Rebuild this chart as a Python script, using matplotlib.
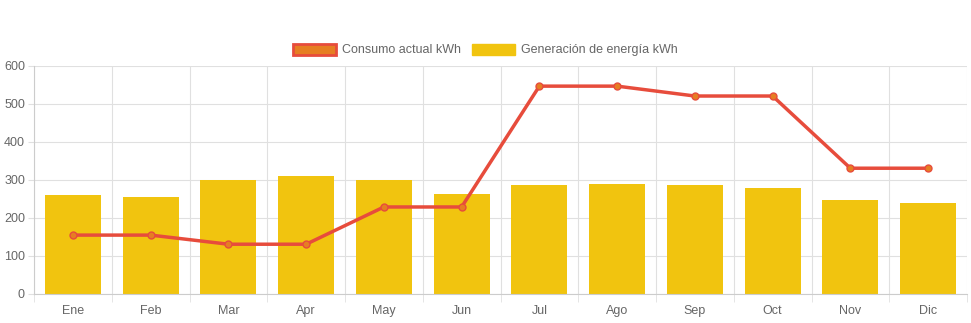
import numpy as np
import matplotlib.pyplot as plt
from matplotlib.patches import Patch

plt.rcParams['font.family'] = ['Liberation Sans', 'DejaVu Sans']

# monthly data (kWh)
meses = ['Ene', 'Feb', 'Mar', 'Apr', 'May', 'Jun', 'Jul', 'Ago', 'Sep', 'Oct', 'Nov', 'Dic']
consumo = [155, 155, 131, 131, 229, 229, 547, 547, 521, 521, 331, 331]
generacion = [260, 256, 301, 310, 301, 263, 287, 290, 287, 279, 248, 240]

fig = plt.figure(figsize=(9.71, 3.23), dpi=100)
ax = fig.add_axes([34/971, 29/323, 933/971, 228/323])

x = np.arange(len(meses))
ax.bar(x, generacion, width=0.72, color='#F1C40F', zorder=2)
ax.plot(x, consumo, color='#E74C3C', lw=2.5, marker='o', ms=5,
        mfc='#E67E22', mec='#E74C3C', mew=1, zorder=3)

ax.set_xlim(-0.5, len(meses) - 0.5)
ax.set_ylim(0, 600)
ax.set_yticks(range(0, 601, 100))
ax.set_xticks(x)
ax.set_xticklabels(meses)

# grid lines between the months, like chart.js offset grid
ax.set_xticks(np.arange(-0.5, len(meses)), minor=True)
ax.grid(True, which='minor', axis='x', color='#e0e0e0', lw=0.8, zorder=0)
ax.grid(True, which='major', axis='y', color='#e0e0e0', lw=0.8, zorder=0)
ax.tick_params(axis='x', which='major', length=0, pad=8, labelsize=9, labelcolor='#666666')
ax.tick_params(axis='x', which='minor', length=6, color='#e0e0e0')
ax.tick_params(axis='y', length=4.5, color='#e0e0e0', pad=2, labelsize=9, labelcolor='#666666')

for s in ['top', 'right']:
    ax.spines[s].set_visible(False)
ax.spines['left'].set_color('#cccccc')
ax.spines['bottom'].set_color('#cccccc')

handles = [Patch(facecolor='#E67E22', edgecolor='#E74C3C', lw=2, label='Consumo actual kWh'),
           Patch(facecolor='#F1C40F', edgecolor='#F1C40F', label='Generación de energía kWh')]
fig.legend(handles=handles, loc='center', bbox_to_anchor=(0.5, 1 - 50/323), ncol=2, frameon=False,
           fontsize=9, labelcolor='#666666', handlelength=3.4, handleheight=1.0,
           columnspacing=0.9, handletextpad=0.5)

fig.savefig('out.png', dpi=100)
